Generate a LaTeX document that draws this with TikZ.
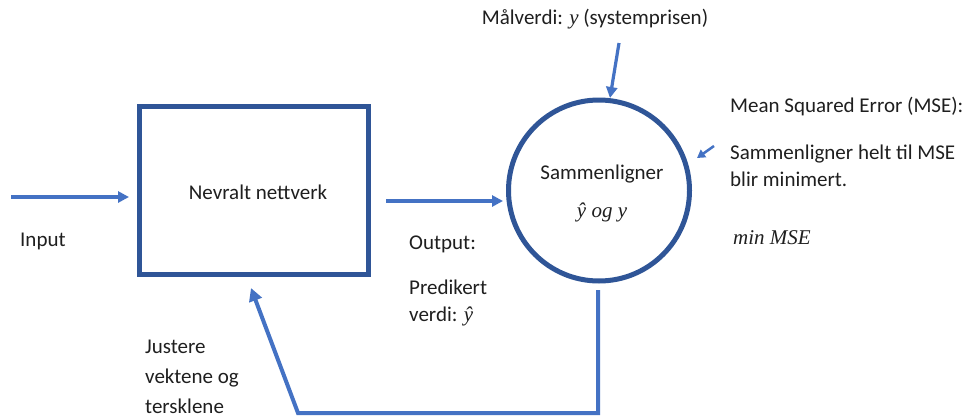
\documentclass[tikz,border=0pt]{standalone}
\usepackage{fontspec}
\setmainfont{Carlito}
\newfontfamily\formula{Liberation Serif}
\newcommand{\fm}[1]{{\formula\itshape #1}}
\usetikzlibrary{arrows.meta}
\definecolor{frameblue}{HTML}{2F5597}
\definecolor{arrowblue}{HTML}{4472C4}
\tikzset{
  txt/.style={font=\fontsize{21}{27}\selectfont, inner sep=0pt, text=black!88},
  flow/.style={draw=arrowblue, line width=3.2pt, -{Triangle[length=11pt,width=11pt]}},
  backflow/.style={draw=arrowblue, line width=4pt, -{Triangle[length=13pt,width=13pt]}},
}
\begin{document}
\begin{tikzpicture}[x=1pt,y=-1pt]
\useasboundingbox[fill=white] (0,0) rectangle (972,418);

% network block and comparator
\node[draw=frameblue, line width=5pt, minimum width=229pt, minimum height=168pt, inner sep=0pt] (net) at (253.5,190.5) {};
\node[txt] (netlabel) at (258,192) {Nevralt nettverk};
\node[draw=frameblue, line width=5pt, circle, minimum size=181pt, inner sep=0pt] (cmp) at (599,190.5) {};
\node[txt] (cmplabel) at (602,174) {Sammenligner};
\node[txt] (cmpmath) at (602,212) {\fm{ŷ og y}};

% labels
\node[txt, anchor=west] (inlabel) at (20,241) {Input};
\node[txt, anchor=west] (outlabel) at (409,244) {Output:};
\node[txt, anchor=north west, align=left] (predlabel) at (409,280) {Predikert\\verdi: \fm{ŷ}};
\node[txt] (target) at (595,19) {Målverdi: \fm{y} (systemprisen)};
\node[txt, anchor=west] (mse) at (730,107) {Mean Squared Error (MSE):};
\node[txt, anchor=north west, align=left] (msedesc) at (730,145) {Sammenligner helt til MSE\\blir minimert.};
\node[txt, anchor=west] (minmse) at (733,238) {\fm{min MSE}};
\node[txt, anchor=north west, align=left, font=\fontsize{21}{30}\selectfont] (adjust) at (145,340) {Justere\\vektene og\\tersklene};

% connector end points
\coordinate (inA) at (11,197);
\coordinate (inB) at (129,197);
\coordinate (outA) at (386,201);
\coordinate (outB) at (503,201);
\coordinate (tgA) at (619,43);
\coordinate (tgB) at (610,98);
\coordinate (mseA) at (714,146);
\coordinate (mseB) at (697,158);
\coordinate (fbA) at (598,290);
\coordinate (fbB) at (598,413);
\coordinate (fbC) at (298,413);
\coordinate (fbD) at (251,288);

% connectors
\draw[flow] (inA) -- (inB);
\draw[flow] (outA) -- (outB);
\draw[flow] (tgA) -- (tgB);
\draw[draw=arrowblue, line width=2.5pt, -{Triangle[length=8pt,width=9pt]}] (mseA) -- (mseB);
\draw[backflow, line join=miter] (fbA) -- (fbB) -- (fbC) -- (fbD);
\end{tikzpicture}
\end{document}
